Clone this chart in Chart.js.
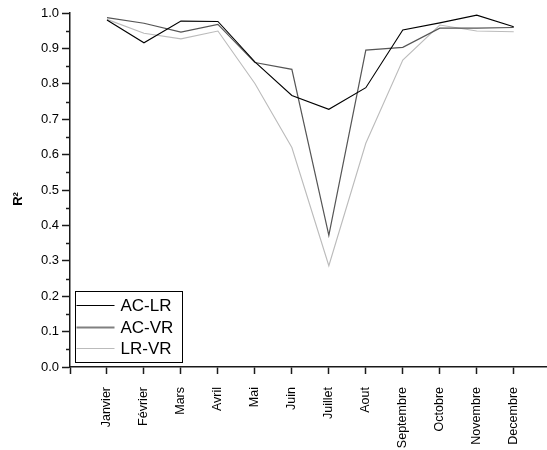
<!DOCTYPE html>
<html>
<head>
<meta charset="utf-8">
<script src="https://cdn.jsdelivr.net/npm/chart.js@4"></script>
<style>
  html, body { margin: 0; padding: 0; background: #fff; }
  #wrap { width: 547px; height: 450px; position: relative; }
</style>
</head>
<body>
<div id="wrap"><canvas id="r2Chart"></canvas></div>
<script>
/* R² mensuel entre les trois séries */
var mois  = ['Janvier', 'Février', 'Mars', 'Avril', 'Mai', 'Juin', 'Juillet', 'Aout', 'Septembre', 'Octobre', 'Novembre', 'Decembre'];
var acLr  = [0.980, 0.916, 0.977, 0.976, 0.862, 0.767, 0.728, 0.789, 0.952, 0.972, 0.994, 0.961];
var acVr  = [0.987, 0.971, 0.946, 0.968, 0.860, 0.841, 0.372, 0.895, 0.903, 0.957, 0.957, 0.959];
var lrVr  = [0.982, 0.943, 0.927, 0.949, 0.801, 0.620, 0.286, 0.632, 0.867, 0.966, 0.949, 0.947];
var yTicks = [0.0, 0.1, 0.2, 0.3, 0.4, 0.5, 0.6, 0.7, 0.8, 0.9, 1.0];

var FONT = "'Liberation Sans', Arial, sans-serif";
var AXIS = '#1a1a1a';

function pts(vals) {
  return vals.map(function(v, i) { return { x: i + 1, y: v }; });
}

/* ── petits traits secondaires sur l'axe Y + titre R² ── */
var minorTicks = {
  id: 'minorTicks',
  afterDraw: function(chart) {
    var ctx = chart.ctx, y = chart.scales.y, x0 = chart.chartArea.left;
    ctx.save();
    ctx.strokeStyle = AXIS;
    ctx.lineWidth = 1.5;
    for (var i = 0; i < yTicks.length - 1; i++) {
      var py = Math.round(y.getPixelForValue((yTicks[i] + yTicks[i + 1]) / 2)) + 0.5;
      ctx.beginPath();
      ctx.moveTo(x0 - 4, py);
      ctx.lineTo(x0, py);
      ctx.stroke();
    }
    /* titre de l'axe, un peu sous le milieu comme dans l'original */
    ctx.translate(18, 199);
    ctx.rotate(-Math.PI / 2);
    ctx.font = 'bold 13px ' + FONT;
    ctx.fillStyle = '#000';
    ctx.textAlign = 'center';
    ctx.textBaseline = 'middle';
    ctx.fillText('R²', 0, 0);
    ctx.restore();
  }
};

/* ── légende encadrée dans le coin bas-gauche ── */
var boxLegend = {
  id: 'boxLegend',
  afterDraw: function(chart) {
    var ctx = chart.ctx;
    var bx = 75.5, by = 291.5, bw = 107, bh = 71;
    ctx.save();
    ctx.fillStyle = '#fff';
    ctx.fillRect(bx, by, bw, bh);
    ctx.strokeStyle = '#000';
    ctx.lineWidth = 1;
    ctx.strokeRect(bx, by, bw, bh);
    ctx.font = '17px ' + FONT;
    ctx.textBaseline = 'middle';
    ctx.fillStyle = '#000';
    chart.data.datasets.forEach(function(ds, i) {
      var ly = Math.round(305 + i * 21.5) + 0.5;
      ctx.strokeStyle = i === 1 ? '#808080' : ds.borderColor;
      ctx.lineWidth = i === 1 ? 2 : 1;
      ctx.beginPath();
      ctx.moveTo(bx + 1, ly);
      ctx.lineTo(bx + 39, ly);
      ctx.stroke();
      ctx.fillText(ds.label, bx + 45, ly + 1);
    });
    ctx.restore();
  }
};

new Chart(document.getElementById('r2Chart').getContext('2d'), {
  type: 'line',
  data: {
    datasets: [
      { label: 'AC-LR', data: pts(acLr), borderColor: '#000000', borderWidth: 1.1 },
      { label: 'AC-VR', data: pts(acVr), borderColor: '#555555', borderWidth: 1.2 },
      { label: 'LR-VR', data: pts(lrVr), borderColor: '#bbbbbb', borderWidth: 1.1 }
    ]
  },
  options: {
    responsive: true,
    maintainAspectRatio: false,
    animation: false,
    layout: { padding: { top: 13, right: 0, left: 0, bottom: 0 } },
    elements: { point: { radius: 0 }, line: { tension: 0 } },
    plugins: {
      legend: { display: false },
      tooltip: { enabled: false }
    },
    scales: {
      x: {
        type: 'linear',
        min: 0,
        max: 12.9,
        afterBuildTicks: function(scale) {
          scale.ticks = [0].concat(mois.map(function(_, i) { return i + 1; }))
            .map(function(v) { return { value: v }; });
        },
        afterFit: function(scale) { scale.height = 83; },
        grid: { drawOnChartArea: false, tickLength: 7, tickColor: AXIS, tickWidth: 1.5 },
        border: { color: AXIS, width: 1.5 },
        ticks: {
          autoSkip: false,
          minRotation: 90,
          maxRotation: 90,
          padding: 13,
          color: '#000',
          font: { family: FONT, size: 12.5 },
          callback: function(v) { return v >= 1 && v <= 12 ? mois[v - 1] : ''; }
        }
      },
      y: {
        min: 0,
        max: 1,
        afterBuildTicks: function(scale) {
          scale.ticks = yTicks.map(function(v) { return { value: v }; });
        },
        afterFit: function(scale) { scale.width = 70; },
        grid: { drawOnChartArea: false, tickLength: 8, tickColor: AXIS, tickWidth: 1.5 },
        border: { color: AXIS, width: 1.5 },
        ticks: {
          padding: 3,
          color: '#000',
          font: { family: FONT, size: 13 },
          callback: function(v) { return v.toFixed(1); }
        }
      }
    }
  },
  plugins: [minorTicks, boxLegend]
});
</script>
</body>
</html>
